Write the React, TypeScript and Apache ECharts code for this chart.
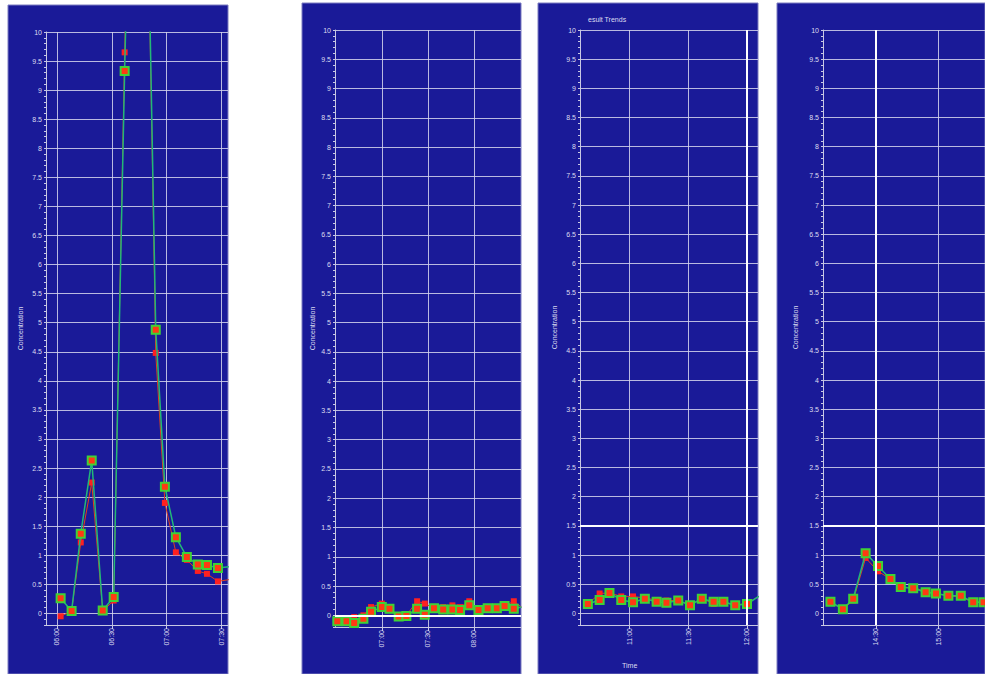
import { useEffect, useRef } from "react";
import * as echarts from "echarts";

// ---------- data ----------
const yTicks = [0, 0.5, 1, 1.5, 2, 2.5, 3, 3.5, 4, 4.5, 5, 5.5, 6, 6.5, 7, 7.5, 8, 8.5, 9, 9.5, 10];

// Panel 1
const p1Times = ["06:02", "06:08", "06:13", "06:19", "06:25", "06:31", "06:37", "06:42", "06:48", "06:54", "06:59", "07:05", "07:11", "07:17", "07:22", "07:28", "07:34"];
const p1Green = [0.26, 0.04, 1.37, 2.63, 0.05, 0.28, 9.33, 16.0, 15.0, 4.88, 2.18, 1.31, 0.97, 0.84, 0.83, 0.78, 0.8];
const p1Red = [-0.05, 0.04, 1.22, 2.25, 0.04, 0.22, 9.65, 16.5, 15.0, 4.48, 1.9, 1.05, 0.92, 0.73, 0.68, 0.55, 0.58];
const p1XTicks = ["06:00", "06:30", "07:00", "07:30"];

// Panel 2
const p2Times = ["06:31", "06:37", "06:42", "06:48", "06:53", "07:00", "07:05", "07:11", "07:16", "07:23", "07:28", "07:34", "07:40", "07:46", "07:51", "07:57", "08:03", "08:09", "08:15", "08:20", "08:26", "08:31"];
const p2Green = [-0.1, -0.1, -0.13, -0.06, 0.06, 0.14, 0.11, -0.02, -0.01, 0.11, 0.01, 0.12, 0.1, 0.1, 0.09, 0.17, 0.09, 0.12, 0.12, 0.16, 0.11, 0.14];
const p2Red = [-0.11, -0.1, -0.03, 0.0, 0.14, 0.2, 0.11, -0.02, 0.0, 0.24, 0.2, 0.12, 0.14, 0.17, 0.14, 0.24, 0.1, 0.12, 0.12, 0.16, 0.24, 0.14];
const p2XTicks = ["07:00", "07:30", "08:00"];

// Panel 3
const p3Times = ["10:39", "10:45", "10:50", "10:56", "11:02", "11:08", "11:14", "11:19", "11:25", "11:31", "11:37", "11:43", "11:48", "11:54", "12:00", "12:06"];
const p3Green = [0.16, 0.23, 0.35, 0.23, 0.19, 0.25, 0.2, 0.18, 0.22, 0.14, 0.25, 0.2, 0.2, 0.14, 0.16, 0.29];
const p3Red = [0.16, 0.34, 0.35, 0.29, 0.29, 0.26, 0.23, 0.22, 0.22, 0.14, 0.26, 0.16, 0.19, 0.14, 0.17, 0.29];
const p3XTicks = ["11:00", "11:30", "12:00"];

// Panel 4
const p4Times = ["14:08", "14:14", "14:19", "14:25", "14:31", "14:37", "14:42", "14:48", "14:54", "14:59", "15:05", "15:11", "15:17", "15:22"];
const p4Green = [0.2, 0.07, 0.25, 1.03, 0.81, 0.59, 0.45, 0.43, 0.36, 0.34, 0.3, 0.3, 0.19, 0.19];
const p4Red = [0.19, 0.07, 0.22, 0.95, 0.72, 0.59, 0.43, 0.45, 0.37, 0.34, 0.3, 0.28, 0.19, 0.19];
const p4XTicks = ["14:30", "15:00"];

// reference lines
const p2ZeroLine = 0;
const p3Threshold = 1.5;
const p3NowMark = "12:00";
const p4Threshold = 1.5;
const p4NowMark = "14:30";

const titleText = "esult Trends";
const yName = "Concentration";
const xName = "Time";

// ---------- helpers ----------
const toMin = (t: string) => {
  const [h, m] = t.split(":").map(Number);
  return h * 60 + m;
};
const fmt = (v: number) => {
  const h = Math.floor(v / 60);
  const m = Math.round(v - h * 60);
  return `${String(h).padStart(2, "0")}:${String(m).padStart(2, "0")}`;
};

const BG = "#1a1a98";
const GRIDC = "rgba(214,214,236,0.85)";
const AXISC = "#c8c8e4";
const TEXTC = "#dcdcf0";
const FONT = "Liberation Sans";

const panels = [
  { times: p1Times, green: p1Green, red: p1Red, ticks: p1XTicks, xmin: 354, xmax: 453.5,
    grid: { left: 46, top: 32, right: 757, bottom: 49 }, nameGap: 22, bg: [8, 5, 220, 669], marks: [] as any[] },
  { times: p2Times, green: p2Green, red: p2Red, ticks: p2XTicks, xmin: 389.5, xmax: 510.7,
    grid: { left: 335, top: 30, right: 464, bottom: 47 }, nameGap: 19, bg: [302, 3, 219, 671], marks: [{ yAxis: p2ZeroLine }] },
  { times: p3Times, green: p3Green, red: p3Red, ticks: p3XTicks, xmin: 635, xmax: 725.6,
    grid: { left: 580, top: 30, right: 227, bottom: 49 }, nameGap: 22, bg: [538, 3, 220, 671],
    marks: [{ yAxis: p3Threshold }, { xAxis: toMin(p3NowMark) }] },
  { times: p4Times, green: p4Green, red: p4Red, ticks: p4XTicks, xmin: 844.4, xmax: 922.7,
    grid: { left: 823, top: 30, right: 0, bottom: 49 }, nameGap: 24, bg: [777, 3, 208, 671],
    marks: [{ yAxis: p4Threshold }, { xAxis: toMin(p4NowMark) }] },
];

export default function App() {
  const ref = useRef<HTMLDivElement>(null);
  useEffect(() => {
    if (!ref.current) return;
    const chart = echarts.init(ref.current, null, { renderer: "svg" });

    const grids: any[] = [];
    const xAxes: any[] = [];
    const yAxes: any[] = [];
    const series: any[] = [];
    const graphics: any[] = [];

    panels.forEach((p, i) => {
      grids.push({ ...p.grid, show: false, outerBoundsMode: "none", containLabel: false });
      graphics.push({
        type: "rect", z: -100, silent: true,
        shape: { x: p.bg[0], y: p.bg[1], width: p.bg[2], height: p.bg[3] },
        style: { fill: BG, stroke: "#7c7cc0", lineWidth: 1 },
      });
      const tickMins = p.ticks.map(toMin);
      xAxes.push({
        type: "value", gridIndex: i, min: p.xmin, max: p.xmax,
        axisLine: { show: true, onZero: false, lineStyle: { color: AXISC, width: 1 } },
        axisTick: { show: true, length: 4, customValues: tickMins, lineStyle: { color: AXISC } },
        axisLabel: { customValues: tickMins, rotate: 90, formatter: (v: number) => fmt(v), color: TEXTC, fontSize: 7, fontFamily: FONT, margin: 3 },
        splitLine: { show: true, lineStyle: { color: GRIDC, width: 1 } },
      });
      yAxes.push({
        type: "value", gridIndex: i, min: -0.2, max: 10, position: "left",
        axisLine: { show: true, onZero: false, lineStyle: { color: AXISC, width: 1 } },
        axisTick: { show: true, length: 2, customValues: yTicks, lineStyle: { color: AXISC } },
        axisLabel: { customValues: yTicks, color: TEXTC, fontSize: 7, fontFamily: FONT, margin: 4 },
        splitLine: { show: true, lineStyle: { color: GRIDC, width: 1 } },
        name: yName, nameLocation: "middle", nameGap: p.nameGap,
        nameTextStyle: { color: TEXTC, fontSize: 7, fontFamily: FONT },
      });
      yAxes.push({
        type: "value", gridIndex: i, min: -0.2, max: 10, interval: 0.1, position: "left", offset: 0,
        axisLine: { show: false, onZero: false },
        axisTick: { show: true, length: 2, lineStyle: { color: AXISC, width: 1 } },
        axisLabel: { show: false },
        splitLine: { show: false },
      });
      const xs = p.times.map(toMin);
      series.push({
        type: "line", xAxisIndex: i, yAxisIndex: 2 * i, z: 3,
        data: xs.map((x, k) => [x, p.red[k]]),
        symbol: "rect", symbolSize: 6, showAllSymbol: true,
        itemStyle: { color: "#ff2020" },
        lineStyle: { color: "#e0401c", width: 1 },
      });
      series.push({
        type: "line", xAxisIndex: i, yAxisIndex: 2 * i, z: 4,
        data: xs.map((x, k) => [x, p.green[k]]),
        symbol: "rect", symbolSize: 8, showAllSymbol: true,
        itemStyle: { color: "#ff3a12", borderColor: "#3fd236", borderWidth: 2 },
        lineStyle: { color: "#22b878", width: 1.5 },
        markLine: p.marks.length
          ? { silent: true, symbol: "none", label: { show: false }, animation: false,
              lineStyle: { color: "#ffffff", width: 2, type: "solid" }, data: p.marks }
          : undefined,
      });
    });

    chart.setOption({
      animation: false,
      backgroundColor: "#ffffff",
      title: [
        { text: titleText, left: 583, top: 11, textStyle: { color: TEXTC, fontSize: 7, fontWeight: "normal", fontFamily: FONT } },
        { text: xName, left: 617, top: 657, textStyle: { color: TEXTC, fontSize: 7, fontWeight: "normal", fontFamily: FONT } },
      ],
      graphic: graphics,
      grid: grids,
      xAxis: xAxes,
      yAxis: yAxes,
      series,
    });
    return () => chart.dispose();
  }, []);
  return <div ref={ref} style={{ position: "absolute", left: 0, top: 0, width: 985, height: 674 }} />;
}
